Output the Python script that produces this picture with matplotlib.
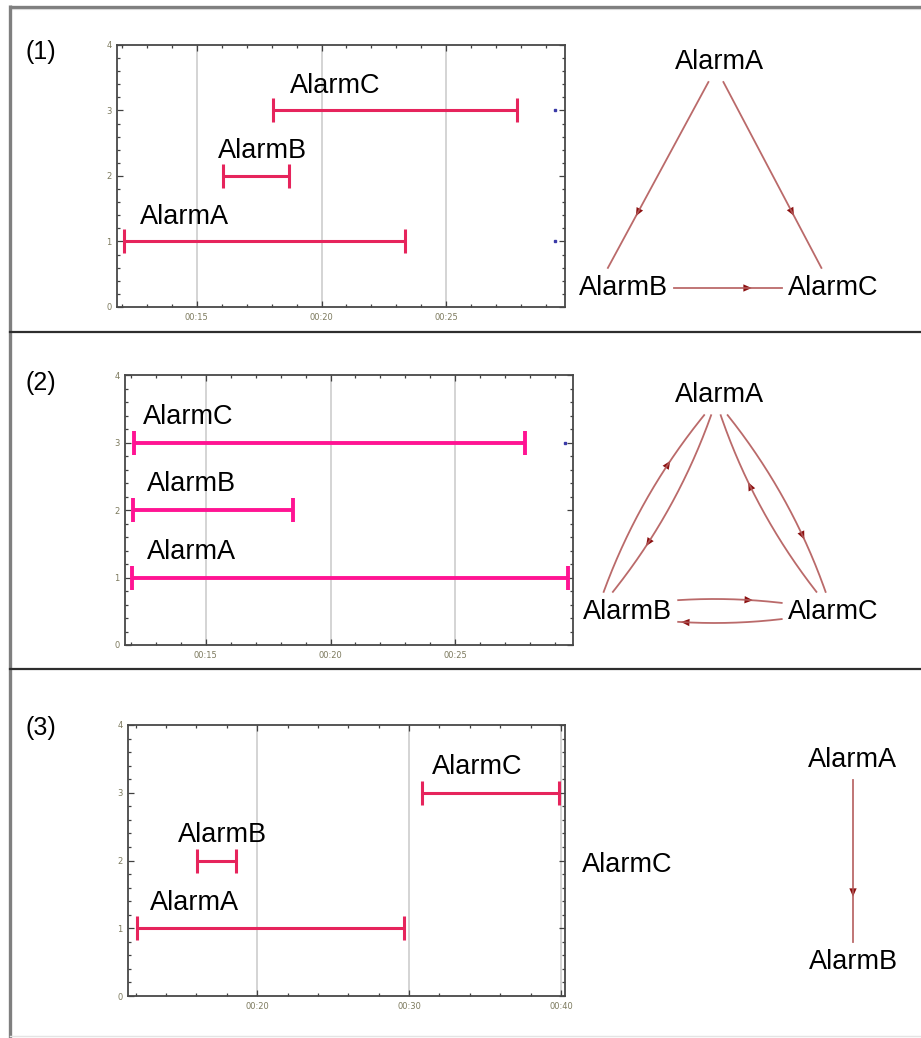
import numpy as np
import matplotlib
matplotlib.use("Agg")
import matplotlib.pyplot as plt
from matplotlib.ticker import MultipleLocator, FuncFormatter
from matplotlib.patches import FancyArrowPatch

# ---------------- data ----------------
alarms = ["AlarmA", "AlarmB", "AlarmC"]
levels = [1, 2, 3]

p1_start = [12.1, 16.04, 18.04]
p1_end = [23.36, 18.68, 27.84]
p2_start = [12.04, 12.08, 12.12]
p2_end = [29.52, 18.48, 27.80]
p3_start = [12.1, 16.05, 30.86]
p3_end = [29.67, 18.60, 39.87]

p1_dots_x = [29.36, 29.36]
p1_dots_y = [3, 1]
p2_dots_x = [29.4]
p2_dots_y = [3]

p1_edges = [("AlarmA", "AlarmB"), ("AlarmA", "AlarmC"), ("AlarmB", "AlarmC")]
p2_edges = [("AlarmA", "AlarmB"), ("AlarmB", "AlarmA"), ("AlarmA", "AlarmC"),
            ("AlarmC", "AlarmA"), ("AlarmB", "AlarmC"), ("AlarmC", "AlarmB")]
p3_edges = [("AlarmA", "AlarmB")]

panel_names = ["(1)", "(2)", "(3)"]

# ---------------- layout / style ----------------
W, H = 921, 1038
fig = plt.figure(figsize=(W / 100, H / 100), dpi=100)
fig.patch.set_facecolor("white")
FONT = "Liberation Sans"
LBL_SIZE = 19.5
TICK_COLOR = "#7d7a5e"


def px_axes(left, top, right, bottom):
    return fig.add_axes([left / W, 1 - bottom / H, (right - left) / W, (bottom - top) / H])


def timeline(ax, starts, ends, color, lw, xlim, major, minor, label_x, dots=None):
    ax.set_xlim(*xlim)
    ax.set_ylim(0, 4)
    ax.xaxis.set_major_locator(MultipleLocator(major))
    ax.xaxis.set_minor_locator(MultipleLocator(minor))
    ax.yaxis.set_major_locator(MultipleLocator(1))
    ax.yaxis.set_minor_locator(MultipleLocator(0.2))
    ax.xaxis.set_major_formatter(FuncFormatter(lambda v, p: "00:%02d" % int(round(v))))
    ax.yaxis.set_major_formatter(FuncFormatter(lambda v, p: "%d" % int(round(v))))
    ax.grid(True, axis="x", which="major", color="#d4d4d4", lw=1.4, zorder=0)
    ax.set_axisbelow(True)
    ax.tick_params(which="both", direction="in", top=True, right=True,
                   color="#404040", width=0.9)
    ax.tick_params(which="major", length=4.5, labelsize=6, labelcolor=TICK_COLOR, pad=4)
    ax.tick_params(which="minor", length=2.5)
    for s in ax.spines.values():
        s.set_color("#484848")
        s.set_linewidth(1.3)
    s_arr = np.array(starts)
    e_arr = np.array(ends)
    ax.errorbar((s_arr + e_arr) / 2, levels, xerr=(e_arr - s_arr) / 2, fmt="none",
                ecolor=color, elinewidth=lw, capsize=8.5, capthick=lw, zorder=3)
    for name, lx, y in zip(alarms, label_x, levels):
        ax.text(lx, y + 0.38, name, fontsize=LBL_SIZE, family=FONT, va="center",
                ha="left", color="black", zorder=4)
    if dots is not None:
        ax.plot(dots[0], dots[1], "s", ms=1.6, color="#3a3aa8", zorder=4, clip_on=False)


ax1 = px_axes(117, 45, 565, 307)
timeline(ax1, p1_start, p1_end, "#e6245c", 2.2, (11.8, 29.76), 5, 1,
         [12.72, 15.84, 18.72], (p1_dots_x, p1_dots_y))
ax2 = px_axes(125, 375, 573, 645)
timeline(ax2, p2_start, p2_end, "#ff1493", 2.8, (11.76, 29.72), 5, 1,
         [12.64, 12.64, 12.48], (p2_dots_x, p2_dots_y))
ax3 = px_axes(128, 725, 565, 996)
timeline(ax3, p3_start, p3_end, "#e6245c", 2.2, (11.5, 40.26), 10, 2,
         [12.96, 14.8, 31.5])

# ---------------- overlay: borders, panel numbers, graphs ----------------
ov = fig.add_axes([0, 0, 1, 1])
ov.set_xlim(0, W)
ov.set_ylim(H, 0)
ov.axis("off")
ov.patch.set_alpha(0)

ov.plot([10, W], [6.5, 6.5], color="#7f7f7f", lw=2.4, solid_capstyle="butt")
ov.plot([10, W], [9, 9], color="#d8d8d8", lw=0.8)
ov.plot([10, 10], [5, H], color="#7f7f7f", lw=2.4, solid_capstyle="butt")
ov.plot([10, W], [332, 332], color="#2e2e2e", lw=1.6)
ov.plot([10, W], [668.5, 668.5], color="#2e2e2e", lw=1.6)
ov.plot([10, W], [1036, 1036], color="#e4e4e4", lw=1.0)

for name, y in zip(panel_names, [52, 383, 728]):
    ov.text(25, y, name, fontsize=18, family=FONT, va="center", ha="left")

# graph layouts (pixel positions)
graphs = [
    dict(edges=p1_edges,
         vert={"AlarmA": (716, 68), "AlarmB": (597, 288), "AlarmC": (832, 288)},
         lab={"AlarmA": (720, 62), "AlarmB": (623, 288), "AlarmC": (833, 288)},
         frac={}),
    dict(edges=p2_edges,
         vert={"AlarmA": (716, 401), "AlarmB": (597, 611), "AlarmC": (832, 611)},
         lab={"AlarmA": (720, 395), "AlarmB": (627, 612), "AlarmC": (833, 612)},
         frac={("AlarmC", "AlarmB"): 0.97, ("AlarmC", "AlarmA"): 0.64}),
    dict(edges=p3_edges,
         vert={"AlarmA": (853, 768), "AlarmB": (853, 962), "AlarmC": (627, 865)},
         lab={"AlarmA": (853, 760), "AlarmB": (853, 962), "AlarmC": (627, 865)},
         frac={}),
]

HW, HH, PADX, PADY = 46, 12, 5, 8
BULGE = 24
EDGE_C = "#b35a5a"
HEAD_C = "#8b1010"


def inside(pts, c):
    return (np.abs(pts[:, 0] - c[0]) <= HW + PADX) & (np.abs(pts[:, 1] - c[1]) <= HH + PADY)


for g in graphs:
    for name, (x, y) in g["lab"].items():
        ov.text(x, y, name, fontsize=LBL_SIZE, family=FONT, ha="center", va="center")
    eset = set(g["edges"])
    for (u, v) in g["edges"]:
        P = np.array(g["vert"][u], float)
        Q = np.array(g["vert"][v], float)
        d = Q - P
        perp = np.array([d[1], -d[0]]) / np.hypot(*d)
        k = BULGE if (v, u) in eset else 0.0
        ctrl = (P + Q) / 2 + perp * k
        t = np.linspace(0, 1, 800)[:, None]
        pts = (1 - t) ** 2 * P + 2 * t * (1 - t) * ctrl + t ** 2 * Q
        m = ~inside(pts, g["lab"][u]) & ~inside(pts, g["lab"][v])
        pts = pts[m]
        ov.plot(pts[:, 0], pts[:, 1], color=EDGE_C, lw=1.3, alpha=0.9)
        seg = np.hypot(*np.diff(pts, axis=0).T)
        cum = np.concatenate([[0], np.cumsum(seg)])
        f = g["frac"].get((u, v), 0.72)
        i = int(np.searchsorted(cum, f * cum[-1]))
        i = max(6, min(i, len(pts) - 1))
        arr = FancyArrowPatch(tuple(pts[i - 6]), tuple(pts[i]),
                              arrowstyle="-|>,head_length=0.5,head_width=0.22",
                              mutation_scale=12, color=HEAD_C, lw=0,
                              shrinkA=0, shrinkB=0)
        ov.add_patch(arr)

fig.savefig("out.png", dpi=100, facecolor="white")
